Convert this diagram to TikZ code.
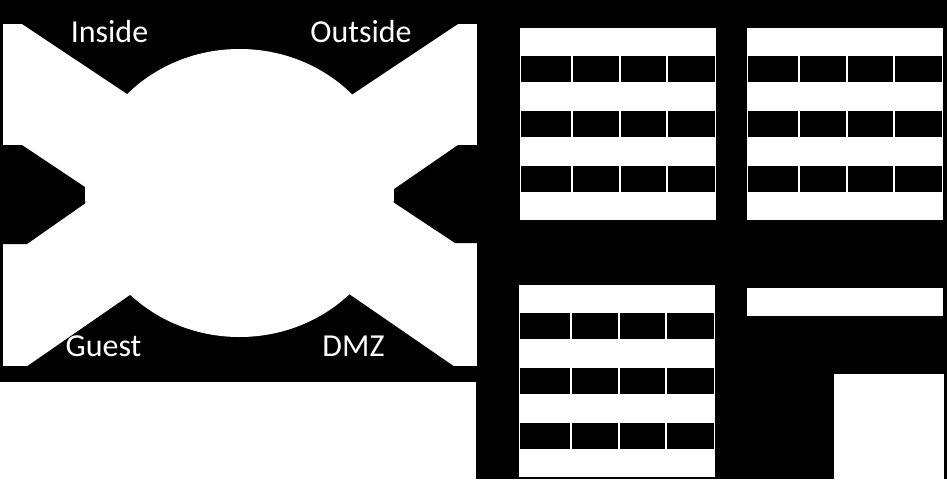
\documentclass[tikz,border=0pt]{standalone}
\usepackage{fontspec}
\setmainfont{Carlito}
\tikzset{
  zonelabel/.style={text=white, anchor=base, font=\fontsize{32}{38}\selectfont},
  cellrow/.style={fill=black},
  gridline/.style={draw=white, line width=1.5pt}
}
\begin{document}
\begin{tikzpicture}[x=1pt,y=-1pt]
      \tikzstyle{every node}+=[inner sep=0pt]
      \useasboundingbox (0,0) rectangle (947,479);
      \fill [black] (0,0) rectangle (947,479);
      % zones
      \fill [white] (3,24) rectangle (477,366);
      \fill [black] (22,24) -- (240,169) -- (458,24) -- cycle;
      \fill [black] (0,145) -- (22,145) -- (97,195) -- (27,244) -- (0,244) -- cycle;
      \fill [black] (477,145) -- (458,145) -- (384,196) -- (455,243) -- (477,243) -- cycle;
      \fill [black] (26,367) -- (240,219) -- (455,367) -- cycle;
      \fill [white] (239.5,193) ellipse [x radius=154.5pt, y radius=144pt];
      \fill [white] (0,382) rectangle (476,479);
      \node [zonelabel] (inside) at (109.5,42) {Inside};
      \node [zonelabel] (outside) at (361,42) {Outside};
      \node [zonelabel] (guest) at (103.5,356) {Guest};
      \node [zonelabel] (dmz) at (353.5,356) {DMZ};
      % table one
      \fill [white] (520,28) rectangle (716,220);
      \fill [cellrow] (520.75,56) rectangle (715.25,82.3);
      \fill [cellrow] (520.75,110.9) rectangle (715.25,137.1);
      \fill [cellrow] (520.75,165.7) rectangle (715.25,192);
      \draw [gridline] (572,28) -- (572,220);
      \draw [gridline] (620,28) -- (620,220);
      \draw [gridline] (667,28) -- (667,220);
      % table two
      \fill [white] (747,28) rectangle (943,220);
      \fill [cellrow] (747.75,56) rectangle (942.25,82.3);
      \fill [cellrow] (747.75,110.9) rectangle (942.25,137.1);
      \fill [cellrow] (747.75,165.7) rectangle (942.25,192);
      \draw [gridline] (799,28) -- (799,220);
      \draw [gridline] (847,28) -- (847,220);
      \draw [gridline] (894,28) -- (894,220);
      % table three
      \fill [white] (519,285) rectangle (715,477);
      \fill [cellrow] (519.75,313) rectangle (714.25,339.3);
      \fill [cellrow] (519.75,367.9) rectangle (714.25,394.1);
      \fill [cellrow] (519.75,422.7) rectangle (714.25,449);
      \draw [gridline] (571,285) -- (571,477);
      \draw [gridline] (619,285) -- (619,477);
      \draw [gridline] (666,285) -- (666,477);
      % bar and box
      \fill [white] (747,288) rectangle (943,316);
      \fill [white] (834,374) rectangle (944,479);
\end{tikzpicture}
\end{document}
